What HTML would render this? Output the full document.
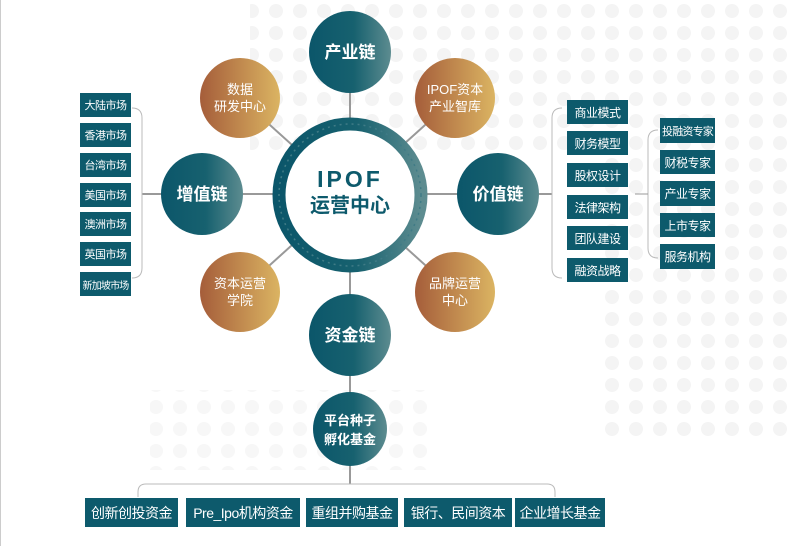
<!DOCTYPE html>
<html><head><meta charset="utf-8"><style>
html,body{margin:0;padding:0;background:#fff;}
body{width:795px;height:546px;overflow:hidden;position:relative;font-family:"Liberation Sans","Noto Sans CJK SC",sans-serif;}
.b{position:absolute;background:#0d5a6c;color:#fff;font-size:12px;display:flex;align-items:center;justify-content:center;white-space:nowrap;letter-spacing:-0.5px;}
.s{font-size:11px;}
</style></head><body>
<svg width="795" height="546" style="position:absolute;left:0;top:0">
<defs>
<linearGradient id="t" x1="0" x2="1" y1="0" y2="0"><stop offset="0" stop-color="#0b566a"/><stop offset="0.55" stop-color="#17616f"/><stop offset="1" stop-color="#5d8c90"/></linearGradient>
<linearGradient id="o" x1="0" x2="1" y1="0" y2="0"><stop offset="0" stop-color="#a55d3a"/><stop offset="1" stop-color="#dbb462"/></linearGradient>
<pattern id="d" width="24" height="22" patternUnits="userSpaceOnUse"><circle cx="12" cy="11" r="7" fill="#f4f4f4"/></pattern>
</defs>
<line x1="0.5" y1="0" x2="0.5" y2="546" stroke="#ccc"/>
<rect x="250" y="0" width="545" height="150" fill="url(#d)"/>
<rect x="600" y="150" width="195" height="290" fill="url(#d)"/>
<rect x="150" y="390" width="280" height="80" fill="url(#d)" opacity="0.7"/>
<g stroke="#999" stroke-width="2" fill="none">
<line x1="350" y1="52" x2="350" y2="430"/>
<line x1="142" y1="194" x2="552" y2="194"/>
<line x1="240" y1="98" x2="455" y2="292"/>
<line x1="455" y1="98" x2="240" y2="292"/>
<line x1="350" y1="430" x2="350" y2="484"/>
</g>
<g stroke="#bbb" stroke-width="1" fill="none">
<path d="M132 108 q10 0 10 10 v150 q0 10 -10 10"/>
<path d="M562 108 q-10 0 -10 10 v150 q0 10 10 10"/>
<path d="M658 130 q-10 0 -10 10 v108 q0 10 10 10"/>
<line x1="635" y1="194" x2="648" y2="194" stroke="#999"/>
<path d="M138 497 v-5 q0 -8 8 -8 h401 q8 0 8 8 v5"/>
</g>
<circle cx="350" cy="195" r="71" fill="#fff" stroke="url(#t)" stroke-width="13"/>
<circle cx="350" cy="195" r="71" fill="none" stroke="#3f7b86" stroke-width="1.5" stroke-dasharray="2 4"/>
<circle cx="350" cy="52" r="41" fill="url(#t)"/>
<circle cx="202" cy="194" r="41" fill="url(#t)"/>
<circle cx="498" cy="194" r="41" fill="url(#t)"/>
<circle cx="350" cy="335" r="41" fill="url(#t)"/>
<ellipse cx="350" cy="429" rx="37" ry="37" fill="url(#t)"/>
<circle cx="240" cy="98" r="40" fill="url(#o)"/>
<circle cx="455" cy="98" r="40" fill="url(#o)"/>
<circle cx="240" cy="292" r="40" fill="url(#o)"/>
<circle cx="455" cy="292" r="40" fill="url(#o)"/>
<g font-family="Liberation Sans,Noto Sans CJK SC,sans-serif" text-anchor="middle" fill="#fff">
<g font-size="17" font-weight="bold">
<text x="350" y="58">产业链</text><text x="202" y="200">增值链</text><text x="498" y="200">价值链</text><text x="350" y="341">资金链</text></g>
<g font-size="13" font-weight="bold"><text x="350" y="425">平台种子</text><text x="350" y="444">孵化基金</text></g>
<g font-size="13"><text x="240" y="94">数据</text><text x="240" y="111">研发中心</text>
<text x="455" y="94">IPOF资本</text><text x="455" y="111">产业智库</text>
<text x="240" y="288">资本运营</text><text x="240" y="305">学院</text>
<text x="455" y="288">品牌运营</text><text x="455" y="305">中心</text></g>
<g fill="#0d5a6c" font-weight="bold"><text x="350" y="187" font-size="23" letter-spacing="3">IPOF</text><text x="350" y="212" font-size="20">运营中心</text></g>
</g>
</svg>
<div class="b s" style="left:80px;top:93px;width:51px;height:24px">大陆市场</div>
<div class="b s" style="left:80px;top:123px;width:51px;height:24px">香港市场</div>
<div class="b s" style="left:80px;top:153px;width:51px;height:24px">台湾市场</div>
<div class="b s" style="left:80px;top:183px;width:51px;height:24px">美国市场</div>
<div class="b s" style="left:80px;top:212px;width:51px;height:24px">澳洲市场</div>
<div class="b s" style="left:80px;top:242px;width:51px;height:24px">英国市场</div>
<div class="b" style="left:80px;top:272px;width:51px;height:24px;font-size:10px;letter-spacing:-0.8px">新加坡市场</div>
<div class="b" style="left:567px;top:100px;width:61px;height:24px">商业模式</div>
<div class="b" style="left:567px;top:131px;width:61px;height:24px">财务模型</div>
<div class="b" style="left:567px;top:163px;width:61px;height:24px">股权设计</div>
<div class="b" style="left:567px;top:195px;width:61px;height:24px">法律架构</div>
<div class="b" style="left:567px;top:226px;width:61px;height:24px">团队建设</div>
<div class="b" style="left:567px;top:258px;width:61px;height:24px">融资战略</div>
<div class="b" style="left:660px;top:118px;width:55px;height:25px;font-size:11px;letter-spacing:-0.8px">投融资专家</div>
<div class="b" style="left:660px;top:150px;width:55px;height:24px">财税专家</div>
<div class="b" style="left:660px;top:181px;width:55px;height:25px">产业专家</div>
<div class="b" style="left:660px;top:213px;width:55px;height:24px">上市专家</div>
<div class="b" style="left:660px;top:244px;width:55px;height:25px">服务机构</div>
<div class="b" style="left:85px;top:498px;width:93px;height:29px;font-size:14px">创新创投资金</div>
<div class="b" style="left:186px;top:498px;width:114px;height:29px;font-size:14px">Pre_Ipo机构资金</div>
<div class="b" style="left:306px;top:498px;width:92px;height:29px;font-size:14px">重组并购基金</div>
<div class="b" style="left:404px;top:498px;width:108px;height:29px;font-size:14px">银行、民间资本</div>
<div class="b" style="left:515px;top:498px;width:90px;height:29px;font-size:14px">企业增长基金</div>
</body></html>
